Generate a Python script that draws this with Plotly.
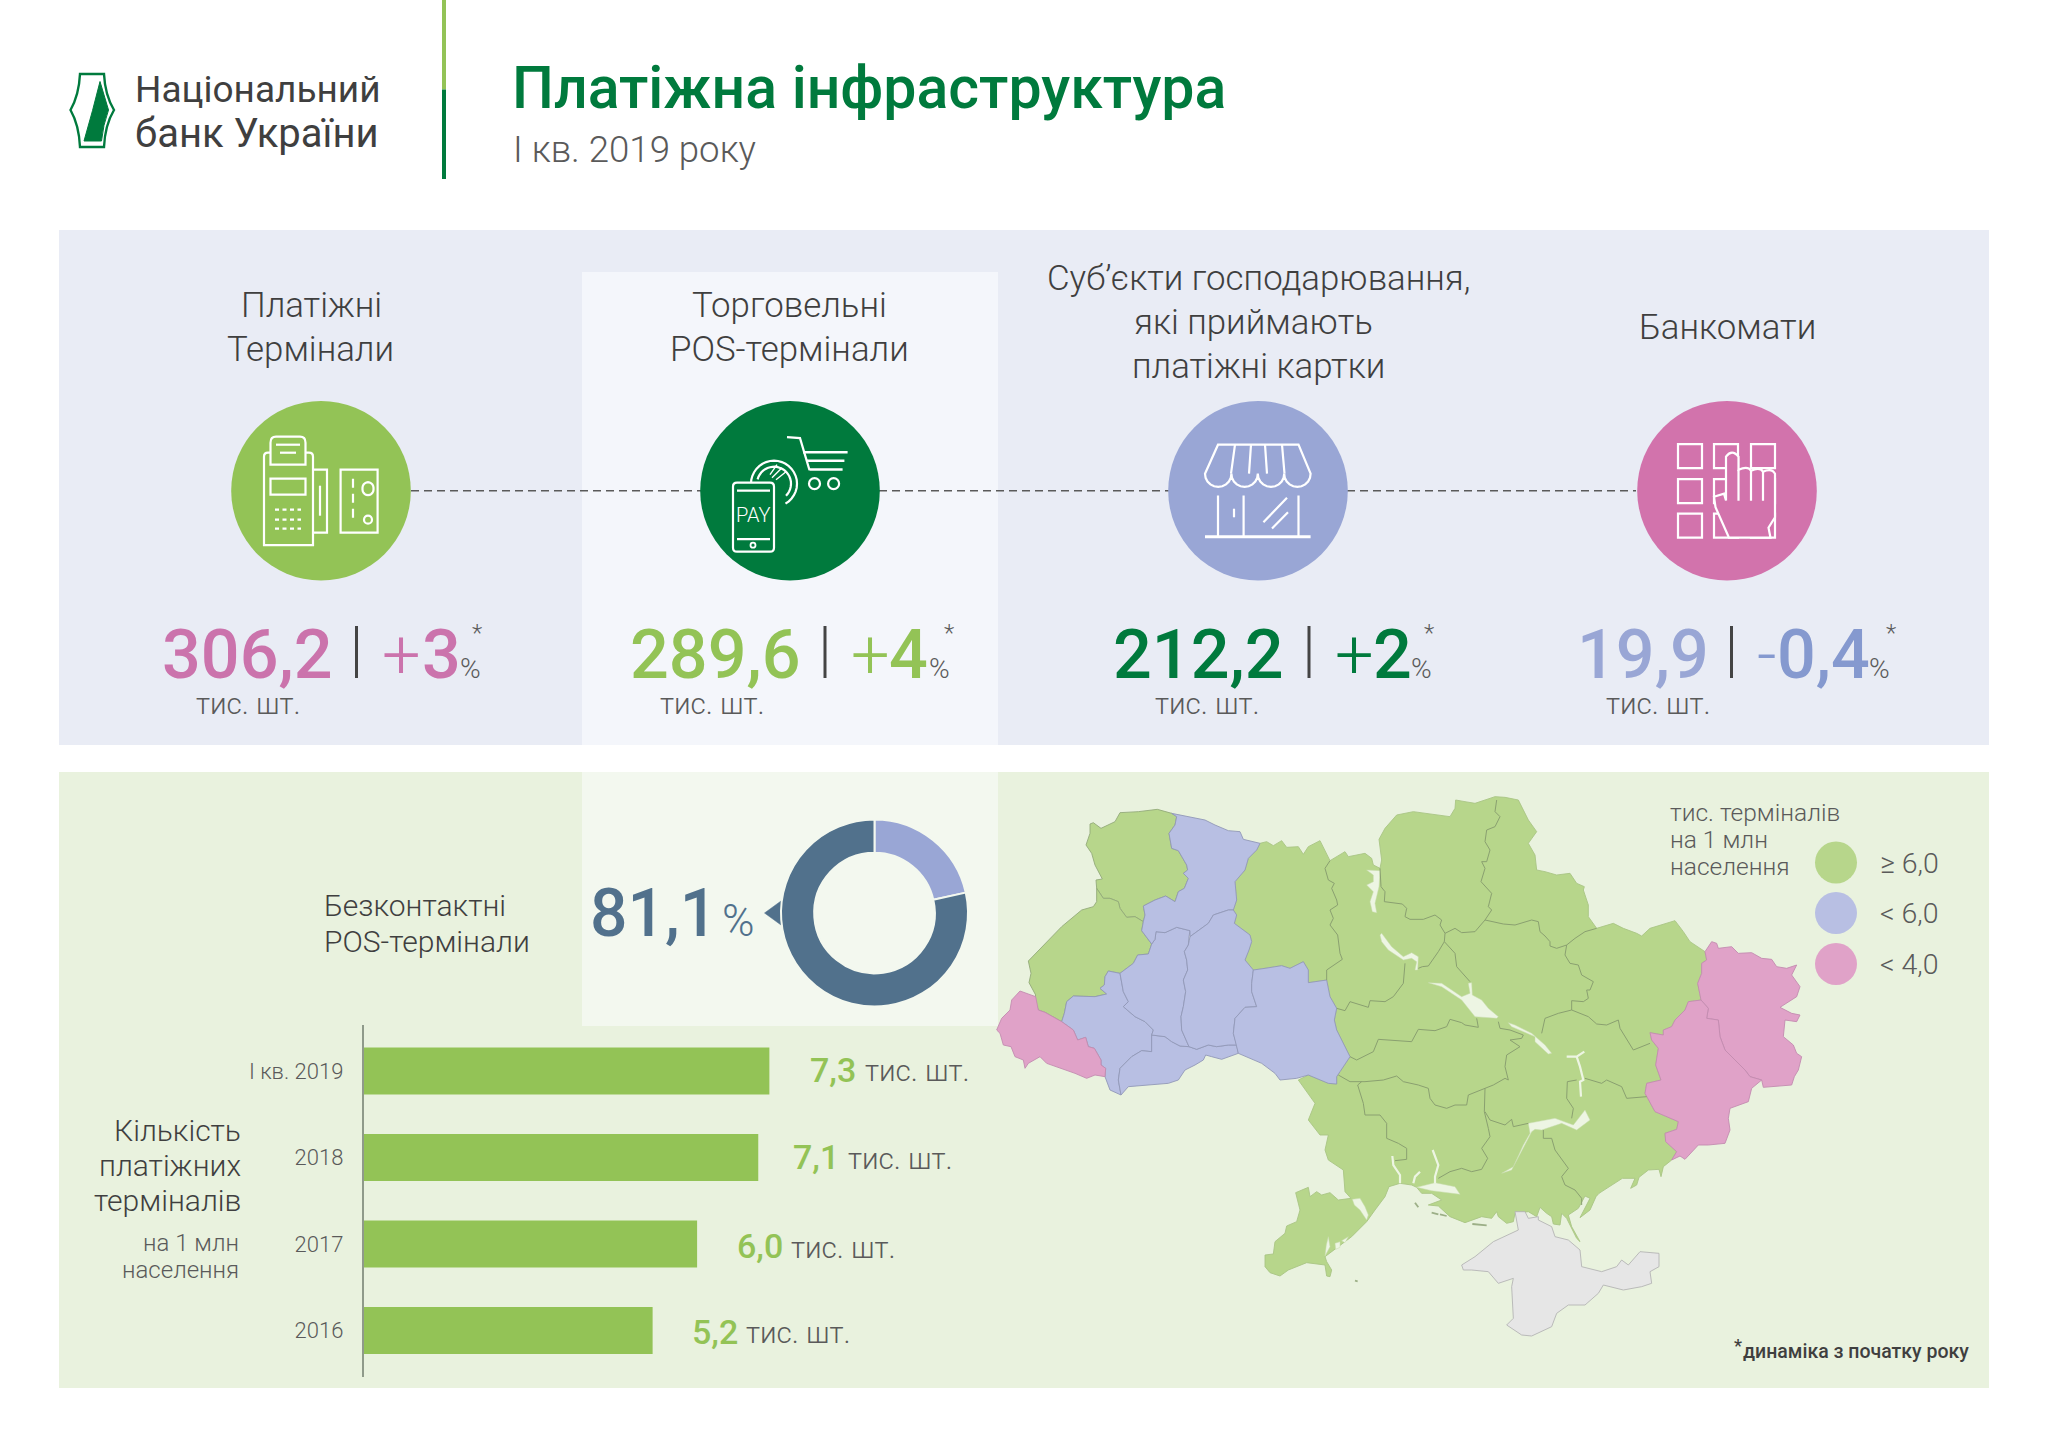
import math
import re
import plotly.graph_objects as go

# ---------- data ----------
YEARS = ["І кв. 2019", "2018", "2017", "2016"]
TERMINALS_PER_MLN = [7.3, 7.1, 6.0, 5.2]
# slice sizes as drawn in the picture (the printed caption says 81,1 %)
CONTACTLESS_DRAWN = [21.5, 78.5]
CONTACTLESS_LABEL = "81,1"
MAIN_VALUES = ["306,2", "289,6", "212,2", "19,9"]
MAIN_COLORS = ["#cb73ac", "#93c356", "#007a3d", "#99a6d5"]
CHANGE_SIGNS = ["+", "+", "+", "-"]
CHANGE_VALUES = ["3", "4", "2", "0,4"]
CHANGE_COLORS = ["#cb73ac", "#93c356", "#007a3d", "#8599cf"]
LEGEND_LABELS = ["≥ 6,0", "< 6,0", "< 4,0"]
GREEN, BLUE, PINK = "#b7d68b", "#b8bfe3", "#e0a2c8"
INK, SOFT = "#3f3f3f", "#5a5a5a"


def A(p): return [(995 + x / 3, 800 + y / 3) for x, y in p]
def B(p): return [(1265 + x / 3, 800 + y / 3) for x, y in p]
def C(p): return [(1535 + x / 3, 800 + y / 3) for x, y in p]
def D(p): return [(1265 + x / 3, 1070 + y / 3) for x, y in p]
def E(p): return [(1535 + x / 3, 1070 + y / 3) for x, y in p]


# ---------- map outlines ----------
VOLYN = A([(375,38),(430,35),(487,28),(530,40),(545,50),(540,75),(522,100),(530,145),(550,152),(575,195),(578,210),(565,220),(580,235),(568,265),(550,275),(540,305),(512,288),(480,300),(445,318),(450,345),(445,365),(420,350),(395,352),(375,325),(370,305),(345,295),(325,295),(305,265),(303,240),(322,237),(300,195),(290,160),(273,135),(285,100),(285,72),(295,68),(318,85),(360,65)])
LVIV = A([(305,265),(325,295),(345,295),(370,305),(375,325),(395,352),(420,350),(445,365),(440,392),(470,432),(460,462),(428,465),(415,490),(375,520),(340,513),(330,530),(328,555),(315,565),(335,582),(300,590),(235,588),(215,605),(208,640),(200,665),(150,637),(130,630),(118,600),(122,585),(102,548),(108,520),(100,483),(150,432),(200,380),(260,330),(295,320),(305,305)])
ZAKARPATTIA = A([(75,573),(122,590),(130,630),(150,637),(200,665),(235,690),(248,720),(272,712),(280,740),(298,745),(318,780),(318,795),(332,805),(330,830),(300,825),(275,835),(240,820),(180,800),(155,790),(135,770),(100,790),(90,805),(85,780),(60,770),(48,740),(25,735),(15,700),(5,690),(20,655),(45,630),(50,600)])
FRANKIVSK = A([(200,665),(208,640),(215,605),(235,588),(300,590),(335,582),(315,565),(328,555),(330,530),(340,513),(375,520),(385,575),(400,605),(385,620),(420,650),(450,665),(475,690),(470,705),(470,755),(440,752),(410,770),(375,805),(370,840),(378,885),(345,870),(330,830),(332,805),(318,795),(318,780),(298,745),(280,740),(272,712),(248,720),(235,690)])
CHERNIVTSI = A([(470,705),(510,710),(530,725),(555,738),(582,740),(605,748),(640,735),(665,740),(700,735),(725,735),(730,760),(680,778),(650,770),(632,765),(625,780),(600,795),(570,810),(550,840),(520,850),(400,860),(378,885),(370,840),(375,805),(410,770),(440,752),(470,755)])
TERNOPIL = A([(470,432),(480,418),(483,395),(510,398),(545,382),(585,392),(582,410),(580,435),(568,455),(575,480),(578,510),(565,540),(572,575),(565,620),(558,650),(560,690),(582,740),(555,738),(530,725),(510,710),(470,705),(475,690),(450,665),(420,650),(385,620),(400,605),(385,575),(375,520),(415,490),(428,465),(460,462)])
RIVNE = A([(530,40),(580,50),(630,60),(660,75),(700,92),(735,95),(745,118),(795,130),(785,150),(760,175),(750,210),(720,245),(725,300),(715,330),(700,330),(655,345),(640,370),(585,410),(585,392),(545,382),(510,398),(483,395),(480,418),(470,432),(440,392),(445,365),(450,345),(445,318),(480,300),(512,288),(540,305),(550,275),(568,265),(580,235),(565,220),(578,210),(575,195),(550,152),(530,145),(522,100),(540,75),(545,50)])
KHMELNYTSKYI = A([(715,330),(725,345),(718,370),(765,405),(770,425),(762,450),(750,480),(775,510),(770,550),(770,575),(785,620),(750,622),(720,655),(715,700),(725,735),(700,735),(665,740),(640,735),(605,748),(582,740),(560,690),(558,650),(565,620),(572,575),(565,540),(578,510),(575,480),(568,455),(580,435),(585,410),(640,370),(655,345),(700,330)])
VINNYTSIA = (A([(775,510),(770,550),(770,575),(785,620),(750,622),(720,655),(715,700),(725,735),(730,760),(800,790),(840,820)])
             + D([(45,30),(95,25),(130,15),(190,40),(215,42),(215,20),(225,5)])
             + B([(255,770),(215,690),(208,660),(215,625),(195,590),(185,540),(130,548),(130,510),(115,485),(75,505),(50,497),(0,505)]))
CENTER_EAST = (A([(795,130),(815,125)])
    + B([(25,137),(50,122),(65,142),(100,140),(115,163),(130,140),(165,122),(195,182),(240,155),(250,170),(300,160),(320,175),(325,195),(345,205),(350,180),(342,118),(360,85),(395,45),(445,35),(520,45),(555,50),(570,25),(572,0),(600,5),(630,10),(660,0),(690,-10),(720,-8),(760,0),(790,60),(815,95),(790,130),(810,165),(815,210),(840,215)])
    + C([(65,225),(105,220),(125,250),(148,260),(145,270),(160,315),(160,350),(185,385),(235,370),(265,385),(305,400),(320,408),(345,385),(420,362),(445,395),(465,425),(510,455),(515,480),(500,490),(500,520),(488,550),(498,600),(460,605),(450,630),(420,660),(410,680),(385,690),(385,705),(345,698),(350,720),(370,745),(362,795)])
    + E([(378,30),(335,40),(330,70),(360,125),(430,155),(425,178),(390,190),(392,215),(425,245),(410,270),(385,290),(378,320),(372,298),(340,300),(312,322),(305,345),(287,355),(300,325),(262,325),(192,370),(183,380),(165,420),(135,443),(165,385),(150,378),(140,395),(130,415),(100,435),(110,470),(135,515),(125,505),(95,445),(80,430),(75,465),(55,462),(50,440),(35,430),(15,412),(5,440)])
    + D([(790,425),(750,430),(745,455),(725,460),(700,440),(695,425),(680,445),(650,440),(600,458),(555,440),(520,408),(490,405),(530,390),(500,370),(470,370),(455,352),(440,345),(405,340),(372,350),(360,380),(330,420),(305,455),(260,500),(180,560),(185,575),(200,600),(195,620),(185,618),(180,585),(125,578),(70,600),(45,618),(15,608),(0,590),(0,555),(25,552),(30,515),(60,490),(65,468),(95,455),(105,420),(92,368),(130,352),(135,380),(155,365),(170,375),(195,368),(220,390),(258,385),(240,365),(235,300),(190,270),(180,240),(190,195),(165,195),(130,150),(150,100),(125,65),(100,30),(130,15),(190,40),(215,42),(215,20),(225,5)])
    + B([(255,770),(215,690),(208,660),(215,625),(195,590),(185,540),(130,548),(130,510),(115,485),(75,505),(50,497),(0,505)])
    + A([(775,510),(750,480),(762,450),(770,425),(765,405),(718,370),(725,345),(715,330),(725,300),(720,245),(750,210),(760,175),(785,150)]))
LUHANSK = (C([(510,455),(530,425),(545,430),(550,445),(590,440),(610,460),(650,458),(680,475),(710,478),(725,500),(755,505),(785,495),(770,525),(795,560),(785,590),(735,622),(770,640),(795,645),(785,665),(750,660),(745,710),(775,735),(785,760),(800,770),(790,810)])
    + E([(778,20),(770,45),(685,52),(680,30),(645,20)])
    + C([(630,810),(600,780),(570,750),(555,710),(550,660),(515,655),(520,625),(498,600),(488,550),(500,520),(500,490),(515,480)]))
DONETSK = (C([(498,600),(520,625),(515,655),(550,660),(555,710),(570,750),(600,780),(630,810)])
    + E([(645,20),(680,30),(650,55),(640,95),(585,115),(580,145),(585,180),(570,220),(520,225),(490,225),(450,268),(435,258),(410,270),(425,245),(392,215),(390,190),(425,178),(430,155),(360,125),(330,70),(335,40),(378,30)])
    + C([(362,795),(370,745),(350,720),(345,698),(385,705),(385,690),(410,680),(420,660),(450,630),(460,605)]))
CRIMEA = (E([(10,450),(50,470),(60,500),(100,510),(135,540),(140,590),(200,605),(245,590),(260,570),(280,585),(315,545),(372,550),(372,590),(345,605),(350,640),(320,650),(265,660),(205,645),(190,670),(150,705),(100,705),(65,730),(50,770),(0,795)])
    + D([(800,798),(770,795),(725,765),(745,745),(740,650),(745,625),(700,640),(670,605),(620,600),(595,600),(590,585),(630,560),(685,515),(760,480),(750,425),(780,425),(790,445),(820,440)]))
WATER = [
    B([(305,210),(345,212),(342,260),(330,310),(335,338),(322,335),(315,305),(325,275),(305,255),(325,245),(325,225)]),
    B([(350,400),(380,440),(415,470),(440,458),(460,470),(458,510),(450,510),(455,485),(440,475),(415,480),(370,450),(350,425),(345,405)]),
    B([(490,548),(530,560),(590,600),(630,650),(695,655),(700,650),(670,625),(650,600),(622,585),(620,548),(610,550),(615,580),(590,590),(530,550)]),
    B([(730,668),(750,675),(800,700),(840,735)]) + C([(50,760),(40,762),(0,725)]) + B([(810,710),(775,695),(740,680)]),
    D([(790,160),(840,150)]) + E([(60,145),(115,165),(150,120),(165,150),(125,180),(80,160),(20,180),(0,178)]) + D([(800,185),(790,205),(755,270),(740,300),(710,310),(745,290),(775,225),(795,190)]),
    D([(455,352),(510,338),(570,350),(585,373),(500,362)]),
    D([(262,388),(285,385),(300,410),(310,435),(305,450),(285,420),(268,405)]),
    D([(190,500),(195,530),(180,558),(184,525)]),
    D([(210,520),(225,515),(225,532),(212,538)]),
    D([(230,512),(250,500),(240,518)]),
]
RIVERS = [
    D([(382,258),(385,285),(405,315),(405,340)]),
    D([(503,240),(520,285),(510,320),(510,340)]),
    D([(465,305),(450,320),(445,340)]),
    C([(95,770),(125,770),(148,755)]),
    C([(125,770),(135,800),(145,840)]) + E([(135,35),(138,80)]),
]
BORDERS = [
    B([(195,182),(180,205),(190,240),(208,250),(200,265),(215,300),(218,315),(195,330),(205,355),(195,375),(218,405),(225,460),(232,478),(185,510),(185,540)]),
    B([(345,205),(348,260),(360,275),(358,305),(412,312),(425,325),(420,350),(435,358),(475,358),(510,345),(530,360),(525,375),(540,400),(538,425),(520,455),(490,498),(472,500),(460,505)]),
    B([(420,490),(415,550),(385,590),(360,605),(315,602),(310,622),(255,605),(240,632),(215,625)]),
    B([(695,0),(690,35),(705,50),(690,80),(665,90),(660,125),(675,150),(665,185),(650,185),(660,205),(648,245),(680,280),(670,320),(680,330),(660,360),(630,395),(590,398),(570,385),(540,400)]),
    B([(660,360),(715,372),(750,375),(800,360),(820,365),(825,395),(840,408)]) + C([(45,425),(45,438),(65,445),(95,435),(120,415),(150,395),(185,385)]),
    C([(95,435),(90,465),(105,490),(130,495),(140,525),(175,545),(165,570),(155,570),(160,595),(145,605),(110,602),(110,630),(160,650),(185,672),(215,675),(250,660),(255,685),(295,750),(345,730)]),
    C([(110,630),(70,640),(30,655),(20,700)]),
    B([(538,425),(570,460),(575,500),(600,530),(615,545)]),
    B([(255,770),(275,780),(325,755),(340,718),(440,725),(460,688),(510,692),(545,680),(555,658),(590,668),(600,675),(640,682),(635,655)]),
    B([(700,665),(705,685),(735,690),(775,705),(770,715),(735,720),(765,740),(725,765),(720,800),(730,840)]) + D([(720,25),(685,45),(660,55),(610,75),(605,105),(570,105),(545,115),(510,105),(495,85),(490,55),(460,45),(435,40),(415,35),(395,18),(355,30),(300,35),(255,35),(220,15)]),
    D([(290,35),(278,45),(295,100),(300,135),(345,135),(365,160),(365,205),(400,220),(425,235),(425,268),(390,272)]),
    D([(660,55),(658,125),(670,175),(675,200),(650,235),(668,265),(650,298),(620,305),(590,295),(555,305),(520,325)]),
    D([(660,125),(675,150),(720,165),(740,148),(745,170),(790,160)]),
    E([(25,180),(25,205),(50,205),(60,240),(100,295),(80,320),(90,345),(120,360),(140,385),(140,405)]),
    E([(110,145),(115,115),(95,85),(97,35),(125,30)]),
    E([(150,25),(200,40),(215,30),(260,50),(275,85),(335,80)]),
]
ISLANDS = [
    D([(450,398),(460,412)]), D([(500,428),(520,433)]), D([(525,433),(545,438)]),
    D([(622,462),(665,466)]), D([(270,632),(278,634)]),
]

# ---------- helpers ----------
shapes, notes, traces = [], [], []
ICON_DY = 0.0


def rect(x0, y0, x1, y1, fill):
    shapes.append(dict(type="rect", x0=x0, y0=y0, x1=x1, y1=y1, fillcolor=fill,
                       line_width=0, layer="below", xref="x", yref="y"))


def circle(cx, cy, r, fill=None, line="#ffffff", lw=2.2):
    cy = cy + ICON_DY
    shapes.append(dict(type="circle", x0=cx - r, y0=cy - r, x1=cx + r, y1=cy + r,
                       fillcolor=fill or "rgba(0,0,0,0)", line=dict(color=line if lw else "rgba(0,0,0,0)", width=lw),
                       layer="below", xref="x", yref="y"))


def path(d, line="#ffffff", lw=2.2, fill=None, dash=None):
    d = re.sub(r"(-?[\d.]+),(-?[\d.]+)", lambda m: f"{m.group(1)},{float(m.group(2)) + ICON_DY:.1f}", d)
    shapes.append(dict(type="path", path=d, fillcolor=fill or "rgba(0,0,0,0)",
                       line=dict(color=line, width=lw, dash=dash) if dash else dict(color=line, width=lw),
                       layer="below", xref="x", yref="y"))


def poly(pts, close=False):
    s = "M " + " L ".join(f"{x:.1f},{y:.1f}" for x, y in pts)
    return s + (" Z" if close else "")


def arc(cx, cy, r, a0, a1, n=24):
    return [(cx + r * math.cos(math.radians(a0 + (a1 - a0) * i / n)),
             cy + r * math.sin(math.radians(a0 + (a1 - a0) * i / n))) for i in range(n + 1)]


def label(x, base, text, size, color=INK, weight=300, anchor="left"):
    notes.append(dict(x=x, y=base - 0.34 * size, text=text, xref="x", yref="y", showarrow=False,
                      xanchor=anchor, yanchor="middle", borderpad=0,
                      font=dict(family="Roboto", size=size, color=color, weight=weight)))


def area(pts, fill, line, lw=0.9):
    traces.append(go.Scatter(x=[p[0] for p in pts] + [pts[0][0]], y=[p[1] for p in pts] + [pts[0][1]],
                             mode="lines", fill="toself", fillcolor=fill, line=dict(color=line, width=lw),
                             hoverinfo="skip", showlegend=False, xaxis="x", yaxis="y"))


def stroke(pts, color, lw=1.0):
    traces.append(go.Scatter(x=[p[0] for p in pts], y=[p[1] for p in pts], mode="lines",
                             line=dict(color=color, width=lw), hoverinfo="skip", showlegend=False,
                             xaxis="x", yaxis="y"))


# ---------- panels ----------
rect(59, 230, 1989, 745, "#e9ecf5")
rect(582, 272, 998, 745, "#f4f6fb")
rect(59, 772, 1989, 1388, "#e9f2de")
rect(582, 772, 998, 1026, "#f3f8ef")

# header rule
shapes.append(dict(type="line", x0=444, x1=444, y0=0, y1=89.5, line=dict(color="#93c356", width=4), layer="below", xref="x", yref="y"))
shapes.append(dict(type="line", x0=444, x1=444, y0=89.5, y1=179, line=dict(color="#007a3d", width=4), layer="below", xref="x", yref="y"))

# logo
path("M 80,74 L 104,74 Q 105,95 114,110 Q 105,125 104,147 L 80,147 Q 79,125 70.5,110 Q 79,95 80,74 Z", "#007a3d", 2.4, "#ffffff")
path("M 100,81.5 L 108.5,110 Q 103,125 101.5,141 L 84,141 Q 93,110 100,81.5 Z", "#007a3d", 1, "#007a3d")

label(134, 102, "Національний", 37, INK, 400)
label(134, 147.5, "банк України", 40, INK, 400)
label(511, 108, "Платіжна інфраструктура", 59, "#007a3d", 500)
label(511.5, 162, "І кв. 2019 року", 36.6, SOFT, 300)

# connecting dashed line
shapes.append(dict(type="line", x0=411, x1=1636, y0=490.7, y1=490.7, xref="x", yref="y", layer="below",
                   line=dict(color="#5a5a5a", width=1.4, dash="8px,5px")))
ICON_CX = [321, 790, 1258, 1727]
ICON_FILL = ["#93c356", "#007a3d", "#99a6d5", "#d273ac"]
for cx, f in zip(ICON_CX, ICON_FILL):
    circle(cx, 490.7, 89.8, f, lw=0)

ICON_DY = -2.3

# terminal icon
path("M 270.5,455 L 268,455 Q 264,455 264,459 L 264,547.5 L 313,547.5 L 313,459 Q 313,455 309,455 L 305.5,455")
path("M 270.5,467 L 270.5,445 Q 270.5,439 276,439 L 300,439 Q 305.5,439 305.5,445 L 305.5,467 Z")
path("M 276,447 L 300,447")
path("M 280,455 L 296,455")
path("M 270.5,481 L 305.5,481 L 305.5,497 L 270.5,497 Z")
for yy in (512, 522, 531):
    path(f"M 275,{yy} L 301,{yy}", dash="4px,3.5px")
path("M 313,472 L 327,472 L 327,535 L 313,535")
path("M 320,488 L 320,518")
path("M 340.6,472 L 377.6,472 L 377.6,535 L 340.6,535 Z")
path("M 353,481 L 353,526", dash="9px,6px")
path(poly(arc(368, 490, 5.5, 180, 360, 10) + arc(368, 492, 5.5, 0, 180, 10), True))
circle(368, 522, 4)

# payment icon
path("M 787,439.4 L 800,440.4 L 809.5,472.4")
path("M 803,454.6 L 847.6,454.6 M 806,463 L 844.4,463 M 809.4,471.8 L 842.6,471.8", lw=2.6)
circle(814.5, 486, 5.5)
circle(833.6, 486, 5.5)
path(poly(arc(774, 486, 23, 180, 420)))
path(poly(arc(774, 486, 17, 195, 405)))
path("M 772,480 L 782,470 M 776,482 L 786,474 M 770,477 L 777,467", lw=1.4)
path("M 737,485 L 770,485 Q 774,485 774,489 L 774,550 Q 774,554 770,554 L 737,554 Q 733,554 733,550 L 733,489 Q 733,485 737,485 Z", fill="#007a3d")
path("M 737,493 L 770,493 M 737,541.5 L 770,541.5")
circle(753, 547.5, 2.5, lw=1.8)
label(753.5, 522, "PAY", 20, "#ffffff", 300, "center")

# shop icon
scal = "M 1218,447 L 1298.5,447 L 1310.6,476"
for i in range(4):
    x1 = 1310.6 - 26.4 * i
    scal += " " + " ".join(f"L {x:.1f},{y:.1f}" for x, y in arc(x1 - 13.2, 476, 13.2, 0, 180, 10))
scal += " L 1218,447 Z"
path(scal)
path("M 1235,447 L 1231,476 M 1251,447 L 1249,476 M 1265,447 L 1267,476 M 1282,447 L 1284.5,476")
path("M 1218,497.7 L 1218,539 M 1243.6,497.7 L 1243.6,539 M 1298.5,497.7 L 1298.5,539")
path("M 1205,539 L 1310.6,539", lw=3)
path("M 1234,511 L 1234,519.6")
path("M 1287,500 L 1263.4,524.6 M 1288,514.5 L 1272,530.7")

# ATM icon
for x0 in (1678, 1714, 1751):
    for y0 in (446.5, 481.5, 516):
        path(poly([(x0, y0), (x0 + 24, y0), (x0 + 24, y0 + 24), (x0, y0 + 24)], True))
path("M 1729,540 L 1715.5,509.5 L 1714,499 L 1724,496 L 1726,502.7 L 1726,459 Q 1732,451 1738.5,459 "
     "L 1738.5,472 Q 1748,468 1751,473 Q 1760,469 1763,474 Q 1772,470 1775,476 L 1775,519.6 L 1768.5,530 L 1770.5,540 Z", fill="#d273ac")
path("M 1738.5,472 L 1738.5,503 M 1751,473 L 1751,503 M 1763,474 L 1763,503")

ICON_DY = 0.0

# big numbers per column
NUM_X = [161, 629, 1112, 1576]
BAR_X = [356.5, 825, 1309, 1731.5]
SIGN_X = [381, 849.5, 1333.5, 1756]
DIGIT_X = [421, 887.5, 1371.5, 1776]
PCT_X = [458.5, 927.5, 1409.5, 1867.5]
STAR_X = [471, 943, 1423, 1885]
UNIT_X = [195, 659, 1154, 1605]
for i in range(4):
    label(NUM_X[i], 678.2, MAIN_VALUES[i], 68.3, MAIN_COLORS[i], 500)
    shapes.append(dict(type="line", x0=BAR_X[i], x1=BAR_X[i], y0=626, y1=678, xref="x", yref="y", layer="below",
                       line=dict(color="#444444", width=3)))
    label(SIGN_X[i], 678.2, CHANGE_SIGNS[i], 68.3, CHANGE_COLORS[i], 300)
    label(DIGIT_X[i], 678.2, CHANGE_VALUES[i], 68.3, CHANGE_COLORS[i], 500)
    label(PCT_X[i], 678.2, "%", 28, SOFT, 300)
    label(STAR_X[i], 641.5, "*", 24, SOFT, 300)
    label(UNIT_X[i], 714.5, "тис. шт.", 29.5, SOFT, 300)

# column headings
HEAD = 34.8
label(311, 317, "Платіжні", HEAD, INK, 300, "center")
label(310, 361, "Термінали", HEAD, INK, 300, "center")
label(789, 317, "Торговельні", HEAD, INK, 300, "center")
label(789, 361, "POS-термінали", HEAD, INK, 300, "center")
label(1258.5, 290, "Суб’єкти господарювання,", HEAD, INK, 300, "center")
label(1253, 334, "які приймають", HEAD, INK, 300, "center")
label(1258.5, 378, "платіжні картки", HEAD, INK, 300, "center")
label(1727, 339, "Банкомати", HEAD, INK, 300, "center")

# contactless
label(323, 916, "Безконтактні", 30, INK, 300)
label(323, 951.5, "POS-термінали", 30, INK, 300)
label(589, 935.5, CONTACTLESS_LABEL, 66, "#51718c", 500)
label(721, 935.5, "%", 44, "#51718c", 300)
path("M 764.5,913 L 781,901 L 781,925 Z", "#51718c", 0.5, "#51718c")

# bar-side captions
label(241.5, 1141, "Кількість", 30, INK, 300, "right")
label(241.5, 1176, "платіжних", 30, INK, 300, "right")
label(241.5, 1211, "терміналів", 30, INK, 300, "right")
label(240, 1251, "на 1 млн", 24, SOFT, 300, "right")
label(240, 1278.5, "населення", 24, SOFT, 300, "right")
VAL_X = [809, 791.5, 735.5, 691]
VAL_UNIT_X = [864, 847, 789.5, 745]
VAL_BASE = [1081.5, 1169, 1258, 1343.5]
for i, v in enumerate(TERMINALS_PER_MLN):
    label(VAL_X[i], VAL_BASE[i], f"{v:.1f}".replace(".", ","), 34, "#93c356", 500)
    label(VAL_UNIT_X[i], VAL_BASE[i], "тис. шт.", 29.5, SOFT, 300)

# map legend
label(1669, 821, "тис. терміналів", 24.5, SOFT, 300)
label(1669, 848, "на 1 млн", 24.5, SOFT, 300)
label(1669, 875, "населення", 24.5, SOFT, 300)
for yy, col, txt, base in zip((862.5, 913, 964), (GREEN, BLUE, PINK), LEGEND_LABELS, (873, 923.5, 974.5)):
    circle(1836, yy, 21, col, lw=0)
    label(1878.5, base, txt, 28.5, SOFT, 300)
label(1733, 1352, "*", 18, INK, 500)
label(1742, 1358, "динаміка з початку року", 19.5, INK, 500)

# ---------- map traces ----------
area(CENTER_EAST, GREEN, "#a9c584")
for r in (VOLYN, LVIV):
    area(r, GREEN, "#93aa79")
for r in (FRANKIVSK, CHERNIVTSI, TERNOPIL, RIVNE, KHMELNYTSKYI, VINNYTSIA):
    area(r, BLUE, "#9298b8")
for r in (ZAKARPATTIA, LUHANSK, DONETSK):
    area(r, PINK, "#c38bb0")
area(CRIMEA, "#e6e6e6", "#b4b4b4")
for r in WATER:
    area(r, "#edf5e3", "#c9dcae", 0.5)
for r in RIVERS:
    stroke(r, "#edf5e3", 2.2)
for r in BORDERS:
    stroke(r, "#8aa070", 1.0)
for r in ISLANDS:
    stroke(r, "#9caf87", 1.8)

# ---------- bars and donut ----------
traces.append(go.Bar(x=TERMINALS_PER_MLN, y=YEARS, orientation="h", marker=dict(color="#93c356", line_width=0),
                     xaxis="x2", yaxis="y2", hoverinfo="skip", showlegend=False))
traces.append(go.Pie(values=CONTACTLESS_DRAWN, sort=False, direction="clockwise", rotation=0, hole=0.645,
                     marker=dict(colors=["#99a6d5", "#51718c"], line=dict(color="#f3f8ef", width=2)),
                     textinfo="none", hoverinfo="skip", showlegend=False,
                     domain=dict(x=[(874.5 - 93.5) / 2048, (874.5 + 93.5) / 2048],
                                 y=[(1448 - 913 - 93.5) / 1448, (1448 - 913 + 93.5) / 1448])))

fig = go.Figure(traces)
fig.update_layout(
    width=2048, height=1448, margin=dict(l=0, r=0, t=0, b=0, pad=0), paper_bgcolor="#ffffff", plot_bgcolor="rgba(0,0,0,0)",
    showlegend=False, shapes=shapes, annotations=notes, bargap=0.457,
    xaxis=dict(domain=[0, 1], range=[0, 2048], visible=False, fixedrange=True),
    yaxis=dict(domain=[0, 1], range=[1448, 0], visible=False, fixedrange=True),
    xaxis2=dict(domain=[363.5 / 2048, (363.5 + 55.6 * 12) / 2048], range=[0, 12], visible=False, anchor="y2", fixedrange=True),
    yaxis2=dict(domain=[(1448 - 1376.5) / 1448, (1448 - 1025) / 1448], range=[3.53, -0.53], type="category",
                categoryorder="array", categoryarray=YEARS, anchor="x2", showline=True, linecolor="#8f9a8a", linewidth=1.5,
                ticks="", showgrid=False, zeroline=False, ticklabelstandoff=14, fixedrange=True,
                tickfont=dict(family="Roboto", size=22, color=SOFT, weight=300)),
)
fig.write_html("out.html", config=dict(displayModeBar=False), post_script="document.body.style.margin='0';")
